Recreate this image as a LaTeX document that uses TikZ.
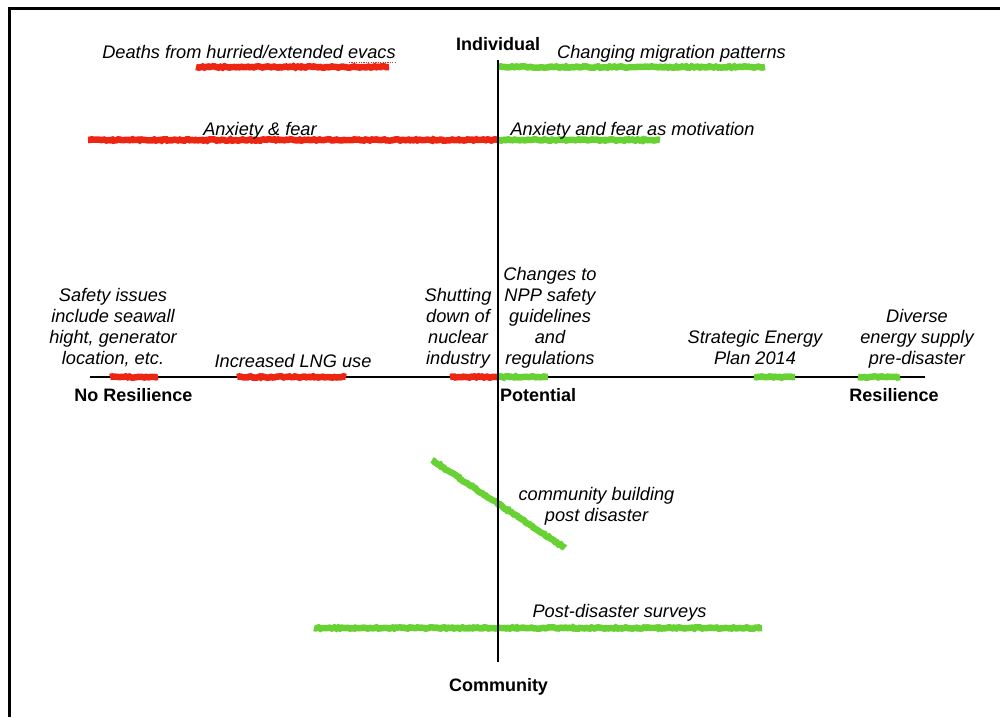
\documentclass[tikz,border=0pt]{standalone}
\usepackage{fontspec}
\setmainfont{Liberation Sans}
\usetikzlibrary{decorations.pathmorphing}
\definecolor{mred}{RGB}{236,38,18}
\definecolor{mgreen}{RGB}{104,210,52}
\tikzset{
  lbl/.style={font=\itshape\fontsize{18.2}{21}\selectfont, inner sep=0pt, align=center},
  axlbl/.style={font=\bfseries\fontsize{18}{21}\selectfont, inner sep=0pt, anchor=base},
  axis/.style={line width=2pt, black},
  mark red/.style={line width=6.5pt, draw=mred, decorate, decoration={random steps, segment length=2pt, amplitude=0.7pt}},
  mark green/.style={line width=6.5pt, draw=mgreen, decorate, decoration={random steps, segment length=2pt, amplitude=0.7pt}},
  spell/.style={draw=mred, line width=1.2pt, dash pattern=on 1.2pt off 1.2pt},
}
\begin{document}
\begin{tikzpicture}[x=1pt, y=-1pt]
\useasboundingbox (0,0) rectangle (1000,717);
% frame
\draw[line width=3pt] (9,717) -- (9,9) -- (1000,9);

% axes coordinates
\coordinate (hl) at (90,377);
\coordinate (hr) at (925,377);
\coordinate (vt) at (498,60);
\coordinate (vb) at (498,662);
\draw[axis] (hl) -- (hr);

% strokes
\coordinate (d1) at (196,67);  \coordinate (d2) at (389,67);
\coordinate (m1) at (498,67);  \coordinate (m2) at (765,67);
\coordinate (a1) at (88,140);  \coordinate (a2) at (498,140);
\coordinate (b1) at (498,140); \coordinate (b2) at (660,140);
\coordinate (s1) at (110,377); \coordinate (s2) at (158,377);
\coordinate (l1) at (237,377); \coordinate (l2) at (346,377);
\coordinate (n1) at (450,377); \coordinate (n2) at (498,377);
\coordinate (c1) at (498,377); \coordinate (c2) at (548,377);
\coordinate (e1) at (754,377); \coordinate (e2) at (795,377);
\coordinate (f1) at (858,377); \coordinate (f2) at (900,377);
\coordinate (g1) at (432,460); \coordinate (g2) at (565,548);
\coordinate (p1) at (314,628); \coordinate (p2) at (762,628);

\draw[mark red] (d1) -- (d2);
\draw[mark green] (m1) -- (m2);
\draw[mark red] (a1) -- (a2);
\draw[mark green] (b1) -- (b2);
\draw[mark red] (s1) -- (s2);
\draw[mark red] (l1) -- (l2);
\draw[mark red] (n1) -- (n2);
\draw[mark green] (c1) -- (c2);
\draw[mark green] (e1) -- (e2);
\draw[mark green] (f1) -- (f2);
\draw[mark green] (g1) -- (g2);
\draw[mark green] (p1) -- (p2);

\draw[axis] (vt) -- (vb);

% axis labels
\node[axlbl] (indiv) at (498,51) {Individual};
\node[axlbl] (comm) at (498.5,691) {Community};
\node[axlbl] (nores) at (133.5,401) {No Resilience};
\node[axlbl] (pot) at (538,401) {Potential};
\node[axlbl] (res) at (894,401) {Resilience};

% item labels
\node[lbl, anchor=base] (deaths) at (249,59) {Deaths from hurried/extended evacs};
\coordinate (sp1) at (349,62.5); \coordinate (sp2) at (396,62.5);
\draw[spell] (sp1) -- (sp2);
\node[lbl, anchor=base] (migr) at (671.5,59) {Changing migration patterns};
\node[lbl, anchor=base] (anx) at (260,135) {Anxiety \& fear};
\node[lbl, anchor=base] (anxm) at (632.5,135) {Anxiety and fear as motivation};
\node[lbl, anchor=base] (lng) at (293,367) {Increased LNG use};
\node[lbl, anchor=south] (safety) at (113,371.3) {Safety issues\\include seawall\\hight, generator\\location, etc.\strut};
\node[lbl, anchor=south] (shut) at (458,371.3) {Shutting\\down of\\nuclear\\industry\strut};
\node[lbl, anchor=south] (npp) at (550,371.3) {Changes to\\NPP safety\\guidelines\\and\\regulations\strut};
\node[lbl, anchor=south] (sep) at (755,371.3) {Strategic Energy\\Plan 2014\strut};
\node[lbl, anchor=south] (div) at (917,371.3) {Diverse\\energy supply\\pre-disaster\strut};
\node[lbl, anchor=south] (cb) at (596.5,528.3) {community building\\post disaster\strut};
\node[lbl, anchor=base] (pds) at (619.5,617) {Post-disaster surveys};
\end{tikzpicture}
\end{document}
